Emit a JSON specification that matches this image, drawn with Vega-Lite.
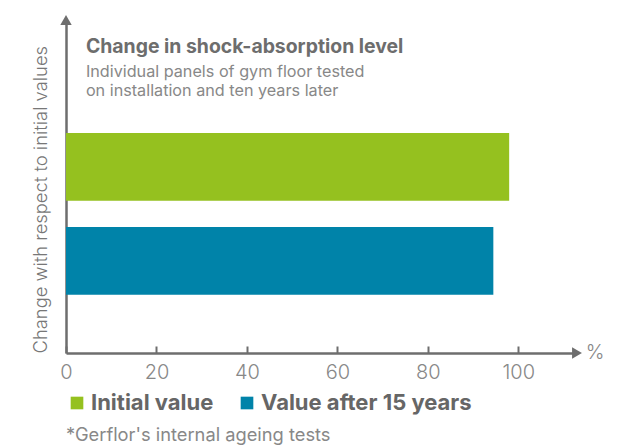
{
  "$schema": "https://vega.github.io/schema/vega-lite/v6.json",
  "width": 511,
  "height": 333,
  "autosize": {"type": "none"},
  "padding": {"left": 66, "top": 20, "right": 50, "bottom": 93},
  "background": "white",
  "config": {"view": {"stroke": null}, "font": "Inter"},
  "datasets": {
    "bars": [
      {"series": "Initial value", "value": 98},
      {"series": "Value after 15 years", "value": 94.5}
    ]
  },
  "layer": [
    {
      "data": {"name": "bars"},
      "mark": {"type": "bar"},
      "encoding": {
        "x": {
          "field": "value",
          "type": "quantitative",
          "scale": {"domain": [0, 113], "nice": false},
          "axis": {
            "values": [0, 20, 40, 60, 80, 100],
            "grid": false,
            "domainColor": "#6e6e6e",
            "domainWidth": 2.5,
            "tickColor": "#6e6e6e",
            "tickWidth": 2,
            "tickSize": -7,
            "labelFontSize": 20,
            "labelFontWeight": 300,
            "labelColor": "#888888",
            "labelPadding": 16,
            "labelFlush": false,
            "title": null
          }
        },
        "y": {
          "field": "series",
          "type": "nominal",
          "sort": ["Initial value", "Value after 15 years"],
          "scale": {"paddingInner": 0.277, "paddingOuter": 0.91, "align": 0.66},
          "axis": {
            "labels": false,
            "ticks": false,
            "grid": false,
            "domainColor": "#6e6e6e",
            "domainWidth": 2.5,
            "title": "Change with respect to initial values",
            "titleFontSize": 18.4,
            "titleFontWeight": 300,
            "titleColor": "#777777",
            "titleAnchor": "end",
            "titleAlign": "left",
            "titlePadding": 16
          }
        },
        "color": {
          "field": "series",
          "type": "nominal",
          "scale": {
            "domain": ["Initial value", "Value after 15 years"],
            "range": ["#95c11f", "#0083a9"]
          },
          "legend": {
            "orient": "bottom",
            "direction": "horizontal",
            "title": null,
            "symbolType": "square",
            "symbolSize": 160,
            "symbolStrokeWidth": 0,
            "symbolOpacity": 1,
            "labelFontSize": 22,
            "labelFontWeight": "bold",
            "labelColor": "#666666",
            "labelLimit": 400,
            "columnPadding": 22,
            "labelOffset": 3,
            "offset": 10
          }
        }
      }
    },
    {
      "data": {"values": [{}]},
      "layer": [
        {
          "mark": {"type": "point", "shape": "triangle-up", "filled": true, "size": 130, "color": "#6e6e6e", "opacity": 1},
          "encoding": {
            "x": {"datum": 0, "type": "quantitative"},
            "y": {"datum": 1, "type": "quantitative", "scale": {"domain": [0, 1], "nice": false, "zero": false}, "axis": null}
          }
        },
        {
          "mark": {"type": "point", "shape": "triangle-right", "filled": true, "size": 130, "color": "#6e6e6e", "opacity": 1},
          "encoding": {
            "x": {"datum": 113, "type": "quantitative"},
            "y": {"datum": 0, "type": "quantitative"}
          }
        },
        {
          "mark": {"type": "text", "text": "%", "fontSize": 20, "fontWeight": 300, "color": "#888888", "align": "center", "baseline": "middle"},
          "encoding": {
            "x": {"datum": 117, "type": "quantitative"},
            "y": {"datum": 0, "type": "quantitative"}
          }
        },
        {
          "mark": {"type": "text", "text": "Change in shock-absorption level", "fontSize": 19.4, "fontWeight": "bold", "color": "#6d6d6d", "align": "left", "baseline": "alphabetic"},
          "encoding": {
            "x": {"datum": 4.4, "type": "quantitative"},
            "y": {"datum": 0.902, "type": "quantitative"}
          }
        },
        {
          "mark": {"type": "text", "text": ["Individual panels of gym floor tested", "on installation and ten years later"], "fontSize": 16.2, "lineHeight": 19.5, "color": "#888888", "align": "left", "baseline": "alphabetic"},
          "encoding": {
            "x": {"datum": 4.4, "type": "quantitative"},
            "y": {"datum": 0.83, "type": "quantitative"}
          }
        },
        {
          "mark": {"type": "text", "text": "*Gerflor's internal ageing tests", "fontSize": 18.3, "color": "#888888", "align": "left", "baseline": "alphabetic"},
          "encoding": {
            "x": {"datum": 0, "type": "quantitative"},
            "y": {"datum": -0.265, "type": "quantitative"}
          }
        }
      ]
    }
  ],
  "resolve": {"scale": {"y": "independent"}}
}
